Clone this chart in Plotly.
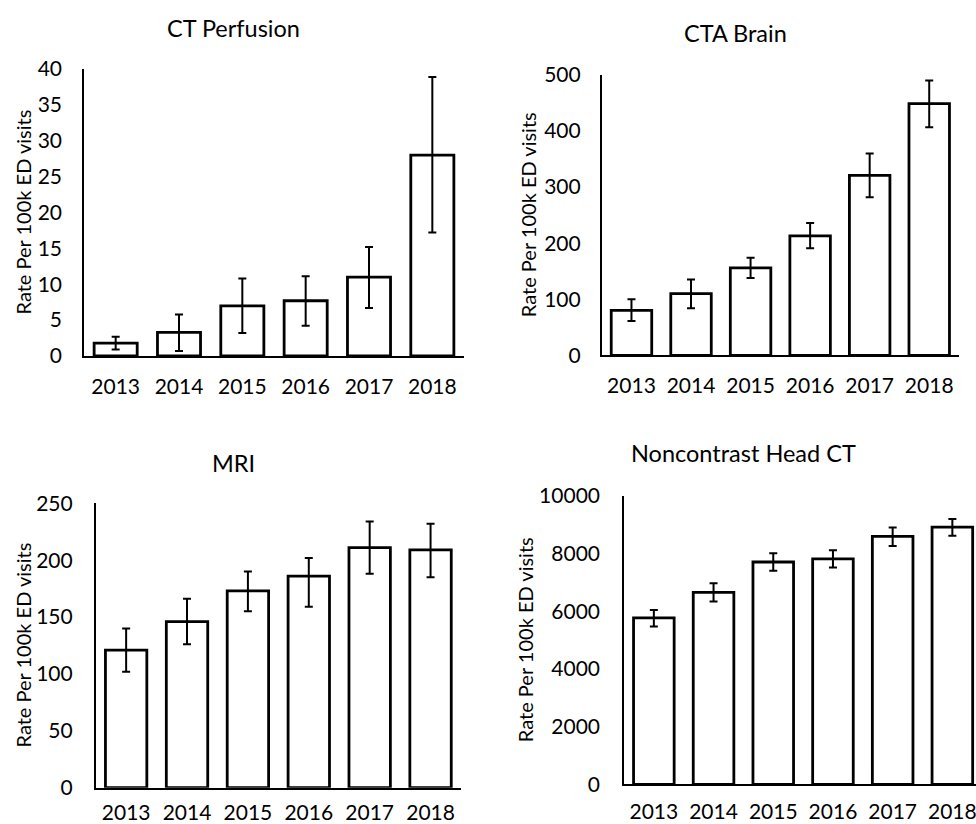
import plotly.graph_objects as go

years = ["2013", "2014", "2015", "2016", "2017", "2018"]

ctp_vals = [1.8, 3.3, 7.0, 7.7, 11.0, 28.0]
ctp_plus = [0.9, 2.5, 3.8, 3.4, 4.2, 10.9]
ctp_minus = [0.9, 2.6, 3.8, 3.5, 4.3, 10.8]

cta_vals = [80, 110, 156, 213, 321, 449]
cta_plus = [20, 25, 18, 23, 39, 41]
cta_minus = [19, 26, 18, 22, 39, 42]

mri_vals = [121, 146, 173, 186, 211, 209]
mri_plus = [19, 20, 17, 16, 23, 23]
mri_minus = [19, 20, 18, 27, 23, 24]

nhct_vals = [5770, 6660, 7710, 7820, 8600, 8920]
nhct_plus = [280, 310, 300, 300, 310, 280]
nhct_minus = [300, 320, 300, 300, 330, 300]

titles = ["CT Perfusion", "CTA Brain", "MRI", "Noncontrast Head CT"]
ytitle = "Rate Per 100k ED visits"

W, H = 976, 824
FONT = "Lato"

def px(x):
    return x / W

def py(y):
    return 1 - y / H

# panel geometry in window pixels
panels = [
    dict(x0=84, x1=464, top=69, bot=356, rng=[0, 40], dtick=5, xr=[-0.5, 5.5], xs=11, ys=16,
         vals=ctp_vals, plus=ctp_plus, minus=ctp_minus, tx=233, ty=28, ax=22),
    dict(x0=601.7, x1=959, top=75, bot=355.3, rng=[0, 500], dtick=100, xr=[-0.5, 5.5], xs=10, ys=15,
         vals=cta_vals, plus=cta_plus, minus=cta_minus, tx=735, ty=33, ax=528),
    dict(x0=95.7, x1=461, top=503.3, bot=787.7, rng=[0, 250], dtick=50, xr=[-0.5, 5.5], xs=5, ys=17,
         vals=mri_vals, plus=mri_plus, minus=mri_minus, tx=233, ty=463, ax=22),
    dict(x0=624, x1=976, top=496, bot=784.3, rng=[0, 10000], dtick=2000, xr=[-0.5, 5.396], xs=7, ys=18,
         vals=nhct_vals, plus=nhct_plus, minus=nhct_minus, tx=743, ty=453, ax=525),
]

fig = go.Figure()
annotations = []
for i, p in enumerate(panels):
    n = "" if i == 0 else str(i + 1)
    fig.add_trace(go.Bar(
        x=years, y=p["vals"],
        xaxis="x" + n, yaxis="y" + n,
        width=0.68,
        marker=dict(color="white", line=dict(color="black", width=2.8)),
        error_y=dict(type="data", symmetric=False, array=p["plus"], arrayminus=p["minus"],
                     color="black", thickness=2, width=4),
        showlegend=False,
    ))
    xa = dict(
        domain=[px(p["x0"]), min(1.0, px(p["x1"]))],
        anchor="y" + n,
        type="category",
        range=p["xr"],
        automargin=False,
        showline=True, linecolor="black", linewidth=2,
        showgrid=False, zeroline=False,
        ticks="", ticklabelstandoff=p["xs"],
        tickfont=dict(family=FONT, size=21, color="black"),
    )
    ya = dict(
        domain=[py(p["bot"]), py(p["top"])],
        anchor="x" + n,
        range=p["rng"], dtick=p["dtick"], tick0=0,
        tickformat="d",
        automargin=False,
        showline=True, linecolor="black", linewidth=1.6,
        showgrid=False, zeroline=False,
        ticks="", ticklabelstandoff=p["ys"],
        tickfont=dict(family=FONT, size=21, color="black"),
    )
    fig.update_layout(**{"xaxis" + n: xa, "yaxis" + n: ya})
    annotations.append(dict(
        text=titles[i], x=px(p["tx"]), y=py(p["ty"]), xref="paper", yref="paper",
        xanchor="center", yanchor="middle", showarrow=False,
        font=dict(family=FONT, size=23.5, color="black"),
    ))
    annotations.append(dict(
        text=ytitle, x=px(p["ax"]), y=py((p["top"] + p["bot"]) / 2), xref="paper", yref="paper",
        xanchor="center", yanchor="middle", showarrow=False, textangle=-90,
        font=dict(family=FONT, size=20, color="black"),
    ))

fig.update_layout(
    template="none",
    width=W, height=H,
    margin=dict(l=0, r=0, t=0, b=0, autoexpand=False),
    paper_bgcolor="white", plot_bgcolor="white",
    annotations=annotations,
    bargap=0.32,
)

fig.write_html(
    "out.html",
    config={"displayModeBar": False},
    post_script="document.body.style.margin='0px';document.documentElement.style.overflow='hidden';",
)
